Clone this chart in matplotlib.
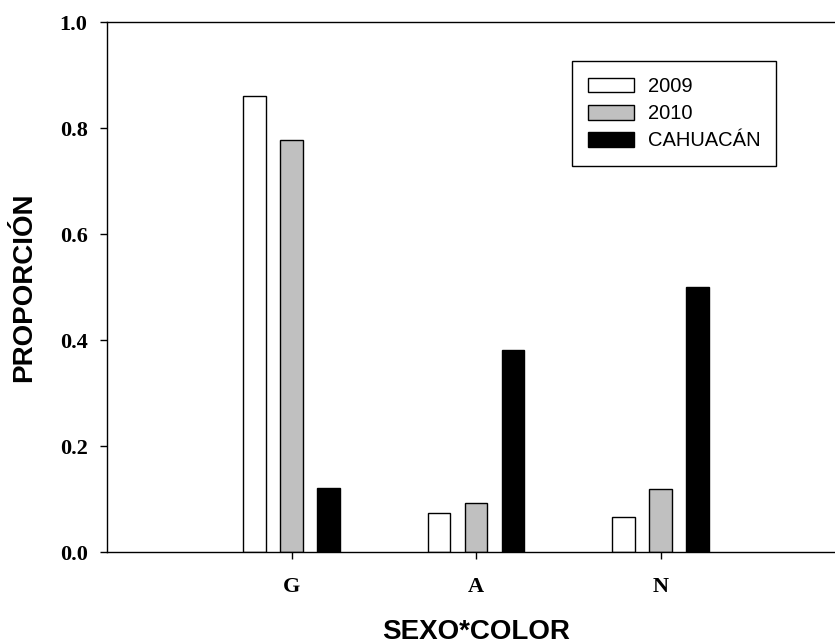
import numpy as np
import matplotlib
matplotlib.use('Agg')
import matplotlib.pyplot as plt

# proportions per sexo*color group
categories = ['G', 'A', 'N']
series_names = ['2009', '2010', 'CAHUACÁN']
vals_2009 = [0.861, 0.074, 0.066]
vals_2010 = [0.777, 0.093, 0.119]
vals_cahuacan = [0.12, 0.382, 0.50]
yticks = [0.0, 0.2, 0.4, 0.6, 0.8, 1.0]

colors = ['white', '#c0c0c0', 'black']

fig = plt.figure(figsize=(8.35, 6.43), dpi=100)
ax = fig.add_axes([107/835, 91/643, 738/835, 530/643])

x = np.arange(1, len(categories) + 1)
width = 0.123
offsets = [-0.2, 0.0, 0.2]
for vals, name, col, off in zip([vals_2009, vals_2010, vals_cahuacan], series_names, colors, offsets):
    ax.bar(x + off, vals, width=width, color=col, edgecolor='black', linewidth=1.0, label=name)

ax.set_xlim(0, 4)
ax.set_ylim(0, 1.0)
ax.set_xticks(x)
ax.set_xticklabels(categories)
ax.set_yticks(yticks)
ax.set_yticklabels(['%.1f' % t for t in yticks])

for lab in ax.get_xticklabels() + ax.get_yticklabels():
    lab.set_fontfamily('Liberation Serif')
    lab.set_fontweight('bold')
    lab.set_fontsize(16)

ax.tick_params(axis='both', direction='out', length=5, width=1.0)
ax.tick_params(axis='y', pad=9)
ax.tick_params(axis='x', pad=13)

ax.spines['right'].set_visible(False)
for s in ['left', 'bottom', 'top']:
    ax.spines[s].set_linewidth(1.0)

ax.set_xlabel('SEXO*COLOR', family='Liberation Sans', weight='bold', size=20, labelpad=15.5)
ax.set_ylabel('PROPORCIÓN', family='Liberation Sans', weight='bold', size=20, labelpad=16)

leg = ax.legend(loc='upper left', bbox_to_anchor=(572/835, 1 - 61/643),
                bbox_transform=fig.transFigure, borderaxespad=0,
                prop={'family': 'Liberation Sans', 'size': 14.5},
                handlelength=2.3, handleheight=0.75, handletextpad=0.65,
                labelspacing=0.4, borderpad=0.8, fancybox=False, framealpha=1)
leg.get_frame().set_edgecolor('black')
leg.get_frame().set_linewidth(1.0)

fig.savefig('out.png', dpi=100)
